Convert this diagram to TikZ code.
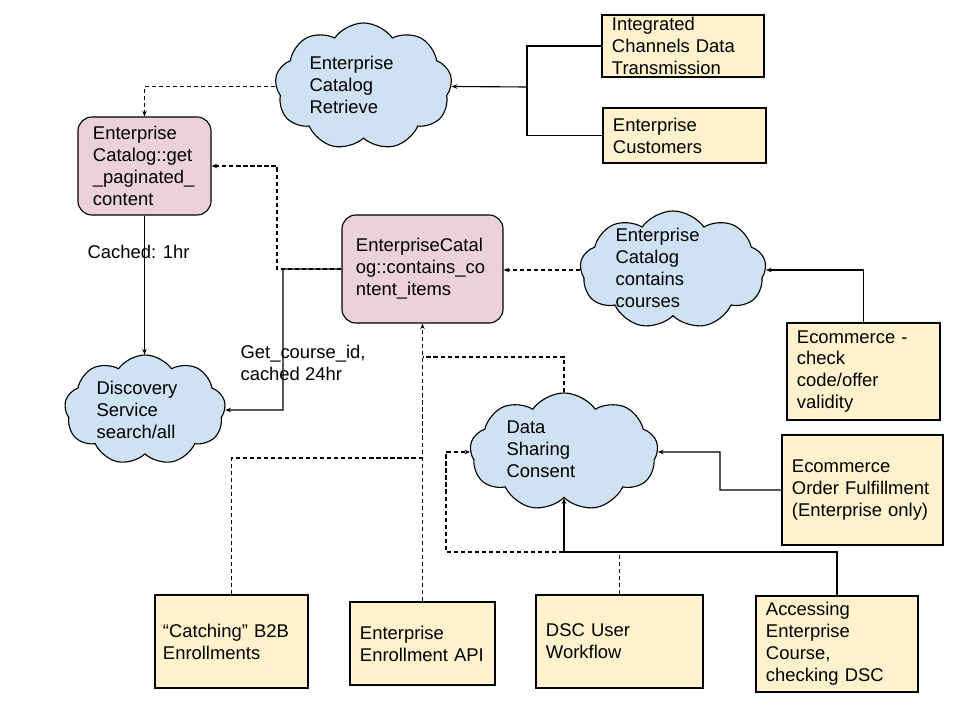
\documentclass[tikz,border=0pt]{standalone}
\usepackage{fontspec}
\setmainfont{Liberation Sans}
\usetikzlibrary{arrows.meta,shapes.symbols}
\definecolor{fnpink}{HTML}{EAD1DC}
\definecolor{usey}{HTML}{FFF2CC}
\definecolor{cldblue}{HTML}{CFE2F3}
\begin{document}
\begin{tikzpicture}[x=0.025cm, y=-0.025cm, line width=0.8pt, every node/.style={font=\fontsize{13.1}{15.6}\selectfont, align=left, inner sep=0pt}, fn/.style={draw, fill=fnpink, rounded corners=0.35cm}, use/.style={draw, fill=usey}, cld/.style={draw, fill=cldblue, cloud, cloud puffs=9, cloud puff arc=110, cloud ignores aspect}, arr/.style={-{Stealth[length=4pt,width=3.2pt]}}, dsh/.style={dash pattern=on 3pt off 2pt}]
\useasboundingbox (0,0) rectangle (960,720);
% clouds
\node[cld, minimum width=4.425cm, minimum height=3.175cm] (ecr) at (363.5,86.5) {};
\node[cld, minimum width=4.025cm, minimum height=2.75cm] (dsa) at (145,410) {};
\node[cld, minimum width=4.65cm, minimum height=2.95cm] (ecc) at (673,270) {};
\node[cld, minimum width=4.7cm, minimum height=2.95cm] (dsc) at (564,452) {};
\node[anchor=west] (ecr-t) at (309,85) {Enterprise\\Catalog\\Retrieve};
\node[anchor=west] (dsa-t) at (96,410) {Discovery\\Service\\search/all};
\node[anchor=west] (ecc-t) at (615,268) {Enterprise\\Catalog\\contains\\courses};
\node[anchor=west] (dsc-t) at (506,449) {Data\\Sharing\\Consent};
% functions
\node[fn, minimum width=3.325cm, minimum height=2.45cm, text width=2.575cm] (getp) at (144.5,166) {Enterprise\\Catalog::get\\\_paginated\_\\content};
\node[fn, minimum width=4.025cm, minimum height=2.7cm, text width=3.325cm] (cci) at (422.5,269) {EnterpriseCatal\\og::contains\_co\\ntent\_items};
% users
\node[use, minimum width=4.05cm, minimum height=1.55cm, text width=3.55cm] (icdt) at (683,46) {Integrated\\Channels Data\\Transmission};
\node[use, minimum width=4.075cm, minimum height=1.375cm, text width=3.575cm] (ec) at (684.5,135.5) {Enterprise\\Customers};
\node[use, minimum width=3.825cm, minimum height=2.425cm, text width=3.325cm] (ecv) at (863.5,371.5) {Ecommerce -\\check\\code/offer\\validity};
\node[use, minimum width=4.025cm, minimum height=2.75cm, text width=3.525cm] (eof) at (862.5,490) {Ecommerce\\Order Fulfillment\\(Enterprise only)};
\node[use, minimum width=3.825cm, minimum height=2.325cm, text width=3.425cm] (catch) at (231.5,641.5) {“Catching” B2B\\Enrollments};
\node[use, minimum width=3.625cm, minimum height=2.075cm, text width=3.125cm] (eea) at (422.5,643.5) {Enterprise\\Enrollment API};
\node[use, minimum width=4.175cm, minimum height=2.325cm, text width=3.675cm] (dscw) at (619.5,641.5) {DSC User\\Workflow};
\node[use, minimum width=4.05cm, minimum height=2.4cm, text width=3.55cm] (acc) at (837,644) {Accessing\\Enterprise\\Course,\\checking DSC};
% labels
\node[anchor=west] (c1h) at (87,252) {Cached: 1hr};
\node[anchor=west] (c24) at (240,363) {Get\_course\_id,\\cached 24hr};
% connectors
\coordinate (j1) at (527,87); \coordinate (k1) at (277,166); \coordinate (k2) at (283,410); \coordinate (k3) at (720,452);
\coordinate (k4) at (422.5,357); \coordinate (k5) at (422.5,458); \coordinate (k6) at (564,552); \coordinate (k7) at (446,552);
\draw (icdt.west) -| (j1); \draw (ec.west) -| (j1); \draw[arr] (j1) -- (ecr.east);
\draw[dsh,arr] (ecr.west) -| (getp.north); \draw[arr] (getp.south) -- (getp.south |- dsa.north);
\draw[dsh,arr] (cci.west) -| (k1) -- (getp.east); \draw[arr] (cci.west) -| (k2) -- (dsa.east);
\draw[dsh,arr] (ecc.west) -- (ecc.west -| cci.east); \draw[arr] (ecv.north) |- (ecc.east);
\draw[arr] (eof.west) -| (k3) -- (dsc.east); \draw[dsh] (dsc.north) |- (k4); \draw[dsh,arr] (eea.north) -- (cci.south); \draw[dsh] (catch.north) |- (k5);
\draw[arr] (acc.north) |- (k6) -- (dsc.south); \draw[dsh,arr] (dscw.north) |- (k7) |- (dsc.west);
\end{tikzpicture}
\end{document}
